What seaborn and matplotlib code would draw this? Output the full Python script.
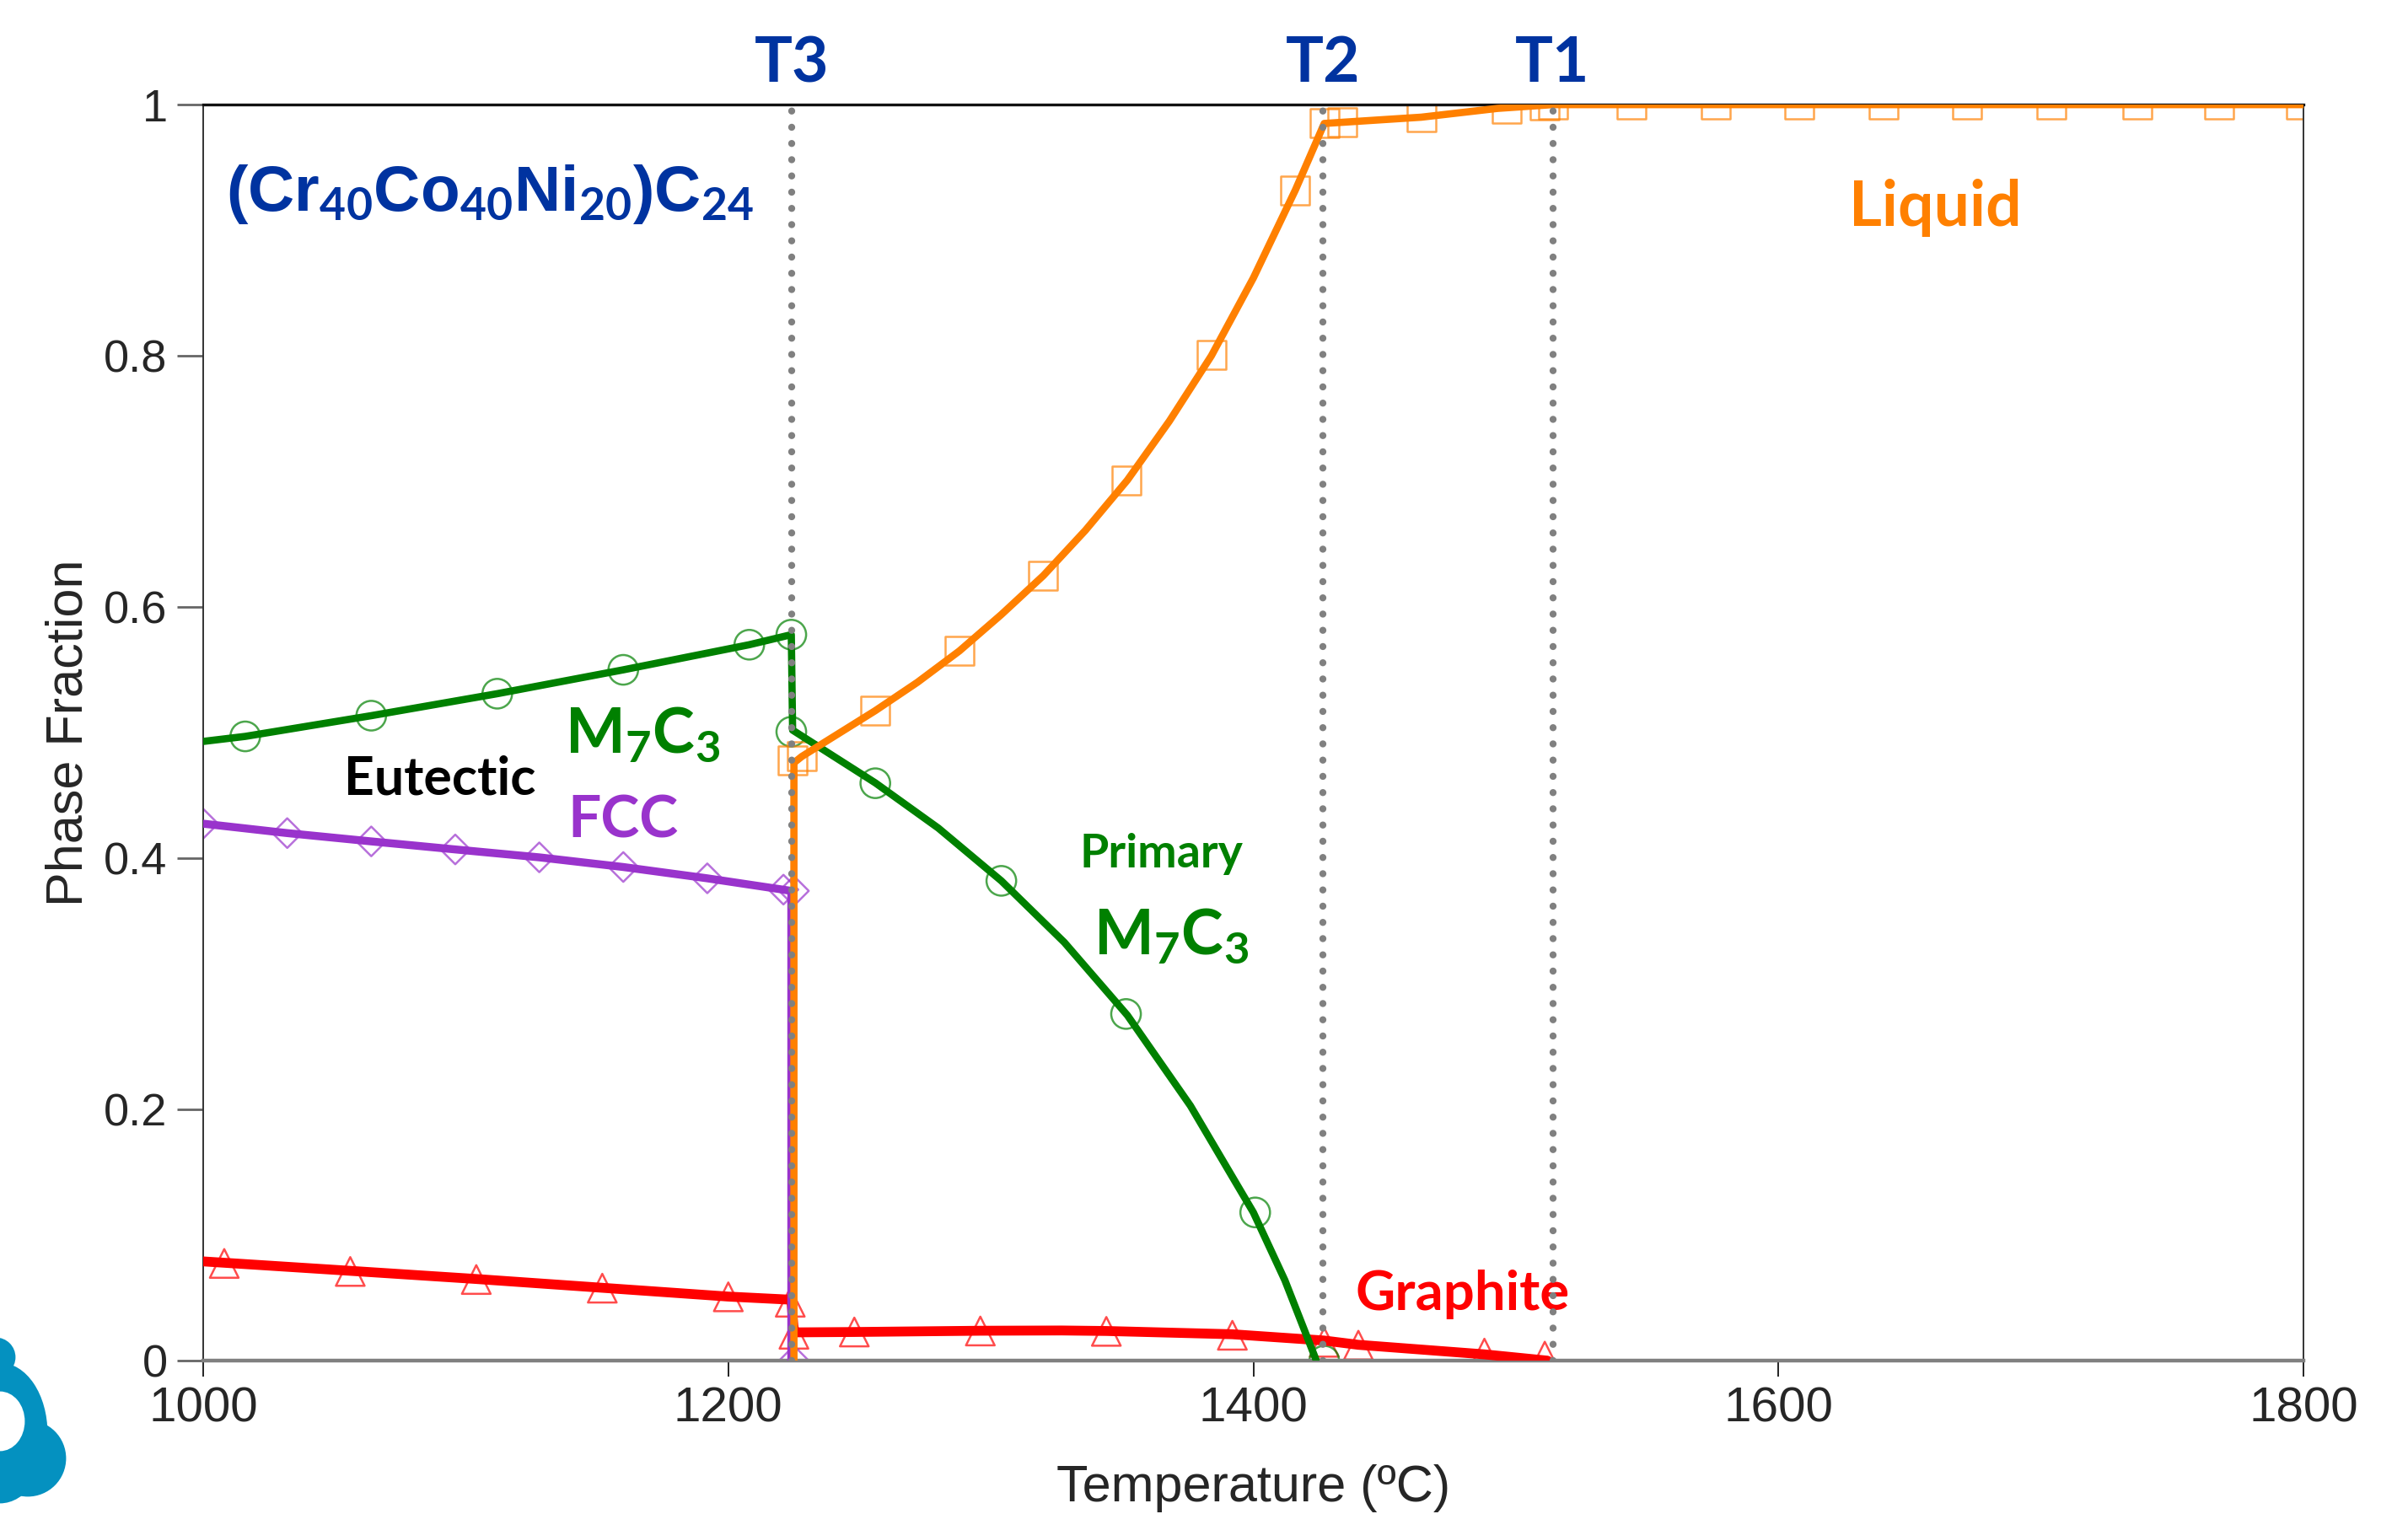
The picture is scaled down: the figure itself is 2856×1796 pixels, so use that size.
import matplotlib
matplotlib.use("Agg")
import matplotlib.pyplot as plt
from matplotlib.patches import Circle, Ellipse
import seaborn as sns

sns.set_style("ticks")
plt.rcParams["font.family"] = ["Liberation Sans", "DejaVu Sans"]
plt.rcParams["mathtext.fontset"] = "custom"
plt.rcParams["mathtext.rm"] = "Lato:bold"
plt.rcParams["mathtext.it"] = "Lato:bold"
plt.rcParams["mathtext.bf"] = "Lato:bold"

# ---------------- data ----------------
# Liquid (orange squares)
liquid_T = [1225, 1225, 1228, 1256, 1272, 1288, 1304, 1320, 1336, 1352, 1368, 1384, 1400, 1416, 1427,
            1464, 1493, 1514, 1800]
liquid_f = [0.0, 0.476, 0.481, 0.5175, 0.540, 0.565, 0.594, 0.625, 0.661, 0.701, 0.748, 0.80, 0.862,
            0.932, 0.985, 0.990, 0.997, 1.0, 1.0]
liquid_mk_T = [1224.5, 1228, 1256, 1288, 1320, 1351.5, 1384, 1416, 1427, 1434, 1464, 1496.5, 1511, 1514,
               1544, 1576, 1608, 1640, 1672, 1704, 1736.6, 1768, 1799]
liquid_mk_f = [0.478, 0.4815, 0.5175, 0.565, 0.625, 0.701, 0.8007, 0.9317, 0.985, 0.986, 0.990, 0.997,
               0.9995, 1.0, 1.0, 1.0, 1.0, 1.0, 1.0, 1.0, 1.0, 1.0, 1.0]

# M7C3 (green circles)
m7c3_T = [1000, 1016, 1064, 1112, 1160, 1208, 1224, 1224.5, 1256, 1280, 1304, 1328, 1352, 1376, 1400,
          1412, 1424]
m7c3_f = [0.493, 0.497, 0.5135, 0.531, 0.550, 0.570, 0.578, 0.502, 0.460, 0.424, 0.382, 0.333, 0.275,
          0.203, 0.118, 0.064, 0.0]
m7c3_mk_T = [1016, 1064, 1112, 1160, 1208, 1224, 1224, 1256, 1304, 1351.5, 1400.7, 1427]
m7c3_mk_f = [0.497, 0.5135, 0.531, 0.550, 0.570, 0.578, 0.5007, 0.4597, 0.382, 0.276, 0.118, 0.0]

# FCC (purple diamonds)
fcc_T = [1000, 1032, 1064, 1096, 1128, 1160, 1192, 1224, 1224]
fcc_f = [0.4275, 0.420, 0.4134, 0.407, 0.4007, 0.393, 0.384, 0.374, 0.0]
fcc_mk_T = [1000, 1032, 1064, 1096, 1128, 1160, 1192, 1221, 1225, 1225]
fcc_mk_f = [0.4275, 0.420, 0.4134, 0.407, 0.4007, 0.393, 0.384, 0.375, 0.374, 0.0]

# Graphite (red triangles)
gr_T = [1000, 1056, 1104, 1152, 1200, 1224, 1225, 1248, 1296, 1327, 1344, 1392, 1427, 1440, 1488, 1512]
gr_f = [0.079, 0.0715, 0.065, 0.058, 0.051, 0.0485, 0.0225, 0.0228, 0.0238, 0.024, 0.0236, 0.021, 0.016,
        0.0126, 0.005, 0.0]
gr_mk_T = [1008, 1056, 1104, 1152, 1200, 1223.6, 1225, 1248, 1296, 1344, 1392, 1427, 1440, 1488, 1511]
gr_mk_f = [0.0774, 0.071, 0.0646, 0.0577, 0.0508, 0.0465, 0.021, 0.0228, 0.0236, 0.0233, 0.0202, 0.0146,
           0.0123, 0.006, 0.0036]

# transition temperatures
trans_T = [1224.2, 1426.6, 1514]
trans_names = ["T3", "T2", "T1"]

x_ticks = [1000, 1200, 1400, 1600, 1800]
y_ticks = [0, 0.2, 0.4, 0.6, 0.8, 1.0]
y_tick_labels = ["0", "0.2", "0.4", "0.6", "0.8", "1"]

GREEN = "#008000"
ORANGE = "#FF8000"
PURPLE = "#9933CC"
RED = "#FF0000"
BLUE = "#0033A0"
LABEL_FONT = ["Lato", "DejaVu Sans"]

# ---------------- figure ----------------
fig = plt.figure(figsize=(14.28, 8.98), dpi=200)
ax = fig.add_axes([0.0844, 0.1013, 0.8722, 0.8296])

phases = [
    (gr_T, gr_f, gr_mk_T, gr_mk_f, RED, "^", 150, 4.2),
    (fcc_T, fcc_f, fcc_mk_T, fcc_mk_f, PURPLE, "D", 80, 3.4),
    (m7c3_T, m7c3_f, m7c3_mk_T, m7c3_mk_f, GREEN, "o", 160, 3.1),
    (liquid_T, liquid_f, liquid_mk_T, liquid_mk_f, ORANGE, "s", 150, 3.1),
]
for T, f, mT, mf, c, m, s, lw in phases:
    sns.scatterplot(x=mT, y=mf, marker=m, s=s, color=c, facecolor="none", edgecolor=c,
                    linewidth=0.9, alpha=0.7, ax=ax, zorder=2)
    sns.lineplot(x=T, y=f, sort=False, estimator=None, color=c, linewidth=lw, ax=ax, zorder=3)

# dotted transition lines + labels
for t, name in zip(trans_T, trans_names):
    ax.axvline(t, color="#808080", lw=3.0, ls=(0, (0.01, 2.3)), dash_capstyle="round", zorder=5)
    ax.text(t, 1.018, name, ha="center", va="baseline", fontsize=27, fontweight="bold",
            color=BLUE, family=LABEL_FONT)

# phase labels
ax.text(1008.6, 0.9157, r"(Cr$_{40}$Co$_{40}$Ni$_{20}$)C$_{24}$", fontsize=27.5, fontweight="bold",
        color=BLUE, family=["Liberation Sans", "DejaVu Sans"], va="baseline")
ax.text(1053.6, 0.4507, "Eutectic", fontsize=22.5, fontweight="bold", color="black",
        family=LABEL_FONT, va="baseline")
ax.text(1137.8, 0.484, r"M$_7$C$_3$", fontsize=27, fontweight="bold", color=GREEN,
        family=LABEL_FONT, va="baseline")
ax.text(1138.7, 0.4165, "FCC", fontsize=25, fontweight="bold", color=PURPLE,
        family=LABEL_FONT, va="baseline")
ax.text(1333.8, 0.3929, "Primary", fontsize=20, fontweight="bold", color=GREEN,
        family=LABEL_FONT, va="baseline")
ax.text(1339, 0.3235, r"M$_7$C$_3$", fontsize=27, fontweight="bold", color=GREEN,
        family=LABEL_FONT, va="baseline")
ax.text(1438.8, 0.0403, "Graphite", fontsize=23.5, fontweight="bold", color=RED,
        family=LABEL_FONT, va="baseline")
ax.text(1627, 0.9035, "Liquid", fontsize=27, fontweight="bold", color=ORANGE,
        family=LABEL_FONT, va="baseline")

# axes styling
ax.set_xlim(1000, 1800)
ax.set_ylim(0, 1)
ax.set_xticks(x_ticks)
ax.set_yticks(y_ticks)
ax.set_yticklabels(y_tick_labels)
ax.tick_params(axis="x", direction="out", length=6.8, width=0.7, color="#222222",
               labelsize=21, pad=4)
ax.tick_params(axis="y", direction="out", length=11, width=1.0, color="#666666",
               labelsize=19.5, pad=4.3)
for side in ["left", "right"]:
    ax.spines[side].set_linewidth(0.7)
    ax.spines[side].set_color("#333333")
ax.spines["top"].set_linewidth(1.2)
ax.spines["top"].set_color("#111111")
ax.spines["bottom"].set_linewidth(1.6)
ax.spines["bottom"].set_color("#808080")
ax.set_xlabel("Temperature (ºC)", fontsize=22, labelpad=14)
ax.set_ylabel("Phase Fraction", fontsize=22, labelpad=4.5)

# partial logo at the lower-left corner
lax = fig.add_axes([0, 0, 120 / 2856, 296 / 1796])
lax.set_xlim(0, 120)
lax.set_ylim(296, 0)
lax.axis("off")
logo = "#0491C0"
lax.add_patch(Circle((-5, 110), 22, color=logo))
lax.add_patch(Ellipse((0, 200), 110, 164, color=logo))
lax.add_patch(Circle((33, 230), 44, color=logo))
lax.add_patch(Ellipse((0, 186), 56, 68, color="white"))

fig.savefig("out.png", dpi=200)
